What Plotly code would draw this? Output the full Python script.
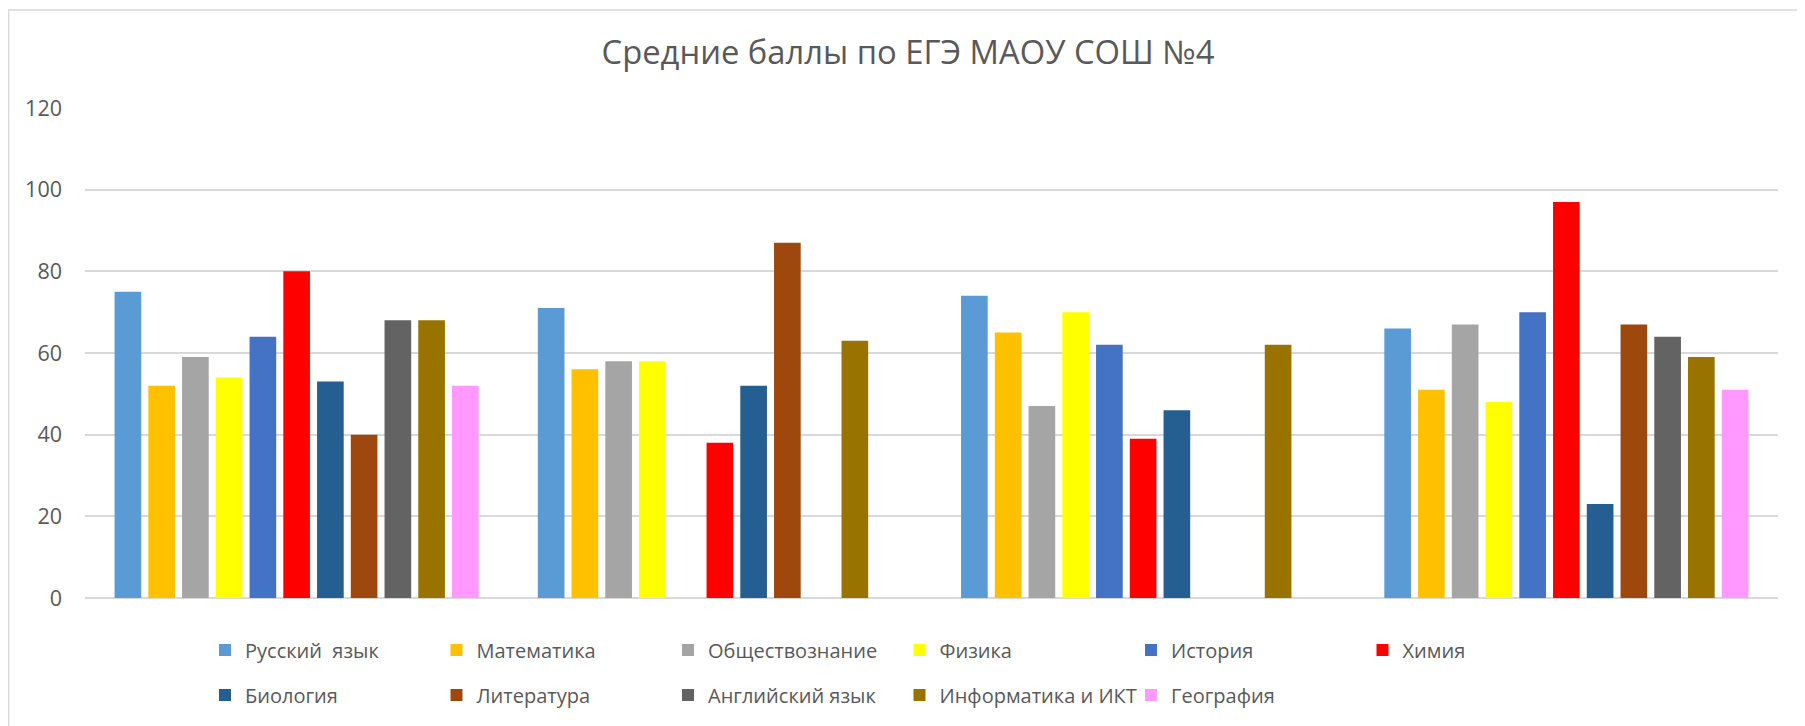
import plotly.graph_objects as go

groups = ["1", "2", "3", "4"]
subjects = ["Русский  язык", "Математика", "Обществознание", "Физика", "История", "Химия",
            "Биология", "Литература", "Английский язык", "Информатика и ИКТ", "География"]
colors = ["#5B9BD5", "#FFC000", "#A5A5A5", "#FFFF00", "#4472C4", "#FF0000",
          "#255E91", "#9E480E", "#636363", "#997300", "#FF99FF"]

russian = [75, 71, 74, 66]
math = [52, 56, 65, 51]
social = [59, 58, 47, 67]
physics = [54, 58, 70, 48]
history = [64, None, 62, 70]
chemistry = [80, 38, 39, 97]
biology = [53, 52, 46, 23]
literature = [40, 87, None, 67]
english = [68, None, None, 64]
informatics = [68, 63, 62, 59]
geography = [52, None, None, 51]

series = [russian, math, social, physics, history, chemistry,
          biology, literature, english, informatics, geography]

font_family = "Open Sans, Noto Sans, sans-serif"
text_color = "#595959"

# page body has an 8px margin, so the figure is 8px smaller and coordinates are shifted
OFF = 8
W, H = 1805 - OFF, 726 - OFF
L, R, T, B = 85 - OFF, 27, 108 - OFF, 128
PW, PH = W - L - R, H - T - B

fig = go.Figure()
legends = {}
for i, (name, vals, col) in enumerate(zip(subjects, series, colors)):
    key = "legend" if i == 0 else f"legend{i + 1}"
    fig.add_trace(go.Bar(
        x=groups, y=vals, name=name, marker_color=col,
        marker_line_width=0, legend=key, showlegend=True,
    ))
    row, colidx = divmod(i, 6)
    box_left = 205 - OFF + colidx * 231.5
    ycenter = (650 if row == 0 else 695) - OFF
    legends[key] = dict(
        orientation="h", x=(box_left - L) / PW, xanchor="left",
        y=(H - B - ycenter) / PH, yanchor="middle",
        font=dict(size=20, color=text_color, family=font_family),
        bgcolor="rgba(0,0,0,0)", borderwidth=0,
    )

fig.update_layout(
    width=W, height=H,
    showlegend=True,
    margin=dict(l=L, r=R, t=T, b=B),
    paper_bgcolor="white", plot_bgcolor="white",
    barmode="group", bargap=0.123, bargroupgap=0.21,
    font=dict(family=font_family, color=text_color),
    title=dict(text="Средние баллы по ЕГЭ МАОУ СОШ №4", x=(908 - OFF) / W, xref="container",
               xanchor="center", y=1 - (53 - OFF) / H, yref="container", yanchor="middle",
               font=dict(size=32.75, color=text_color, family=font_family)),
    xaxis=dict(showticklabels=False, showgrid=False, zeroline=False, ticks=""),
    yaxis=dict(range=[0, 120], dtick=20, showgrid=True, gridcolor="#D9D9D9", gridwidth=1.5,
               zeroline=True, zerolinecolor="#D9D9D9", zerolinewidth=1.5,
               tickfont=dict(size=21.5, color=text_color), ticks="", ticklabelstandoff=22),
    shapes=[dict(type="rect", xref="paper", yref="paper",
                 x0=(8.6 - OFF - L) / PW, x1=1.1, y0=-0.5, y1=(H - B - (10 - OFF)) / PH,
                 line=dict(color="#D9D9D9", width=1.5), fillcolor="rgba(0,0,0,0)", layer="below")],
    **legends,
)

fig.write_html("out.html")
